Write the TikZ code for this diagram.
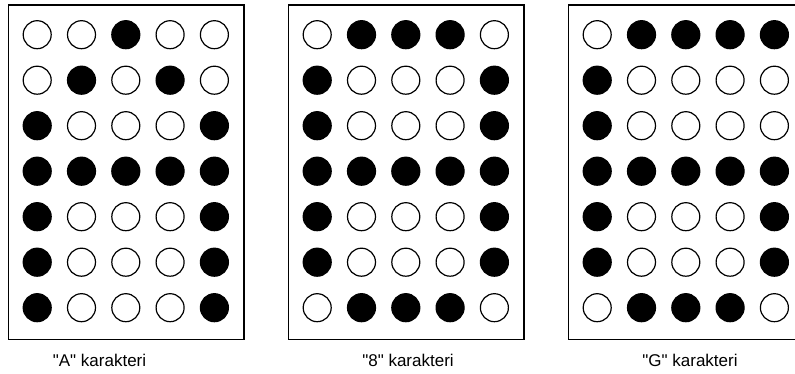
\documentclass[tikz,border=0pt]{standalone}
\usepackage{fontspec}
\newfontfamily\capfont{Liberation Sans}
\begin{document}
\begin{tikzpicture}[x=1pt, y=-1pt]
  \tikzstyle{panel} = [draw, line width=1.3pt]
  \tikzstyle{dot0} = [circle, draw, line width=1.2pt, fill=white, inner sep=0pt, minimum size=28pt]
  \tikzstyle{dot1} = [dot0, fill=black]
  \tikzstyle{caption} = [anchor=base, inner sep=0pt, font=\capfont\fontsize{17}{20}\selectfont]

  \useasboundingbox (0,0) rectangle (795,374);

  % "A" matrix
  \begin{scope}[xshift=0pt]
    \draw[panel] (8.3,5) rectangle (244,339.3);
    \foreach \r/\bits in {1/{0,0,1,0,0}, 2/{0,1,0,1,0}, 3/{1,0,0,0,1}, 4/{1,1,1,1,1},
                          5/{1,0,0,0,1}, 6/{1,0,0,0,1}, 7/{1,0,0,0,1}}
      \foreach \b [count=\c] in \bits
        \node[dot\b] (A-\r-\c) at ({37.2+44.3*(\c-1)}, {34.7+45.5*(\r-1)}) {};
    \node[caption] (labA) at (99.5,366) {"A" karakteri};
  \end{scope}

  % "8" matrix
  \begin{scope}[xshift=280pt]
    \draw[panel] (8.3,5) rectangle (244,339.3);
    \foreach \r/\bits in {1/{0,1,1,1,0}, 2/{1,0,0,0,1}, 3/{1,0,0,0,1}, 4/{1,1,1,1,1},
                          5/{1,0,0,0,1}, 6/{1,0,0,0,1}, 7/{0,1,1,1,0}}
      \foreach \b [count=\c] in \bits
        \node[dot\b] (E-\r-\c) at ({37.2+44.3*(\c-1)}, {34.7+45.5*(\r-1)}) {};
    \node[caption] (lab8) at (128,366) {"8" karakteri};
  \end{scope}

  % "G" matrix
  \begin{scope}[xshift=560pt]
    \draw[panel] (8.3,5) rectangle (244,339.3);
    \foreach \r/\bits in {1/{0,1,1,1,1}, 2/{1,0,0,0,0}, 3/{1,0,0,0,0}, 4/{1,1,1,1,1},
                          5/{1,0,0,0,1}, 6/{1,0,0,0,1}, 7/{0,1,1,1,0}}
      \foreach \b [count=\c] in \bits
        \node[dot\b] (G-\r-\c) at ({37.2+44.3*(\c-1)}, {34.7+45.5*(\r-1)}) {};
    \node[caption] (labG) at (130,366) {"G" karakteri};
  \end{scope}
\end{tikzpicture}
\end{document}
